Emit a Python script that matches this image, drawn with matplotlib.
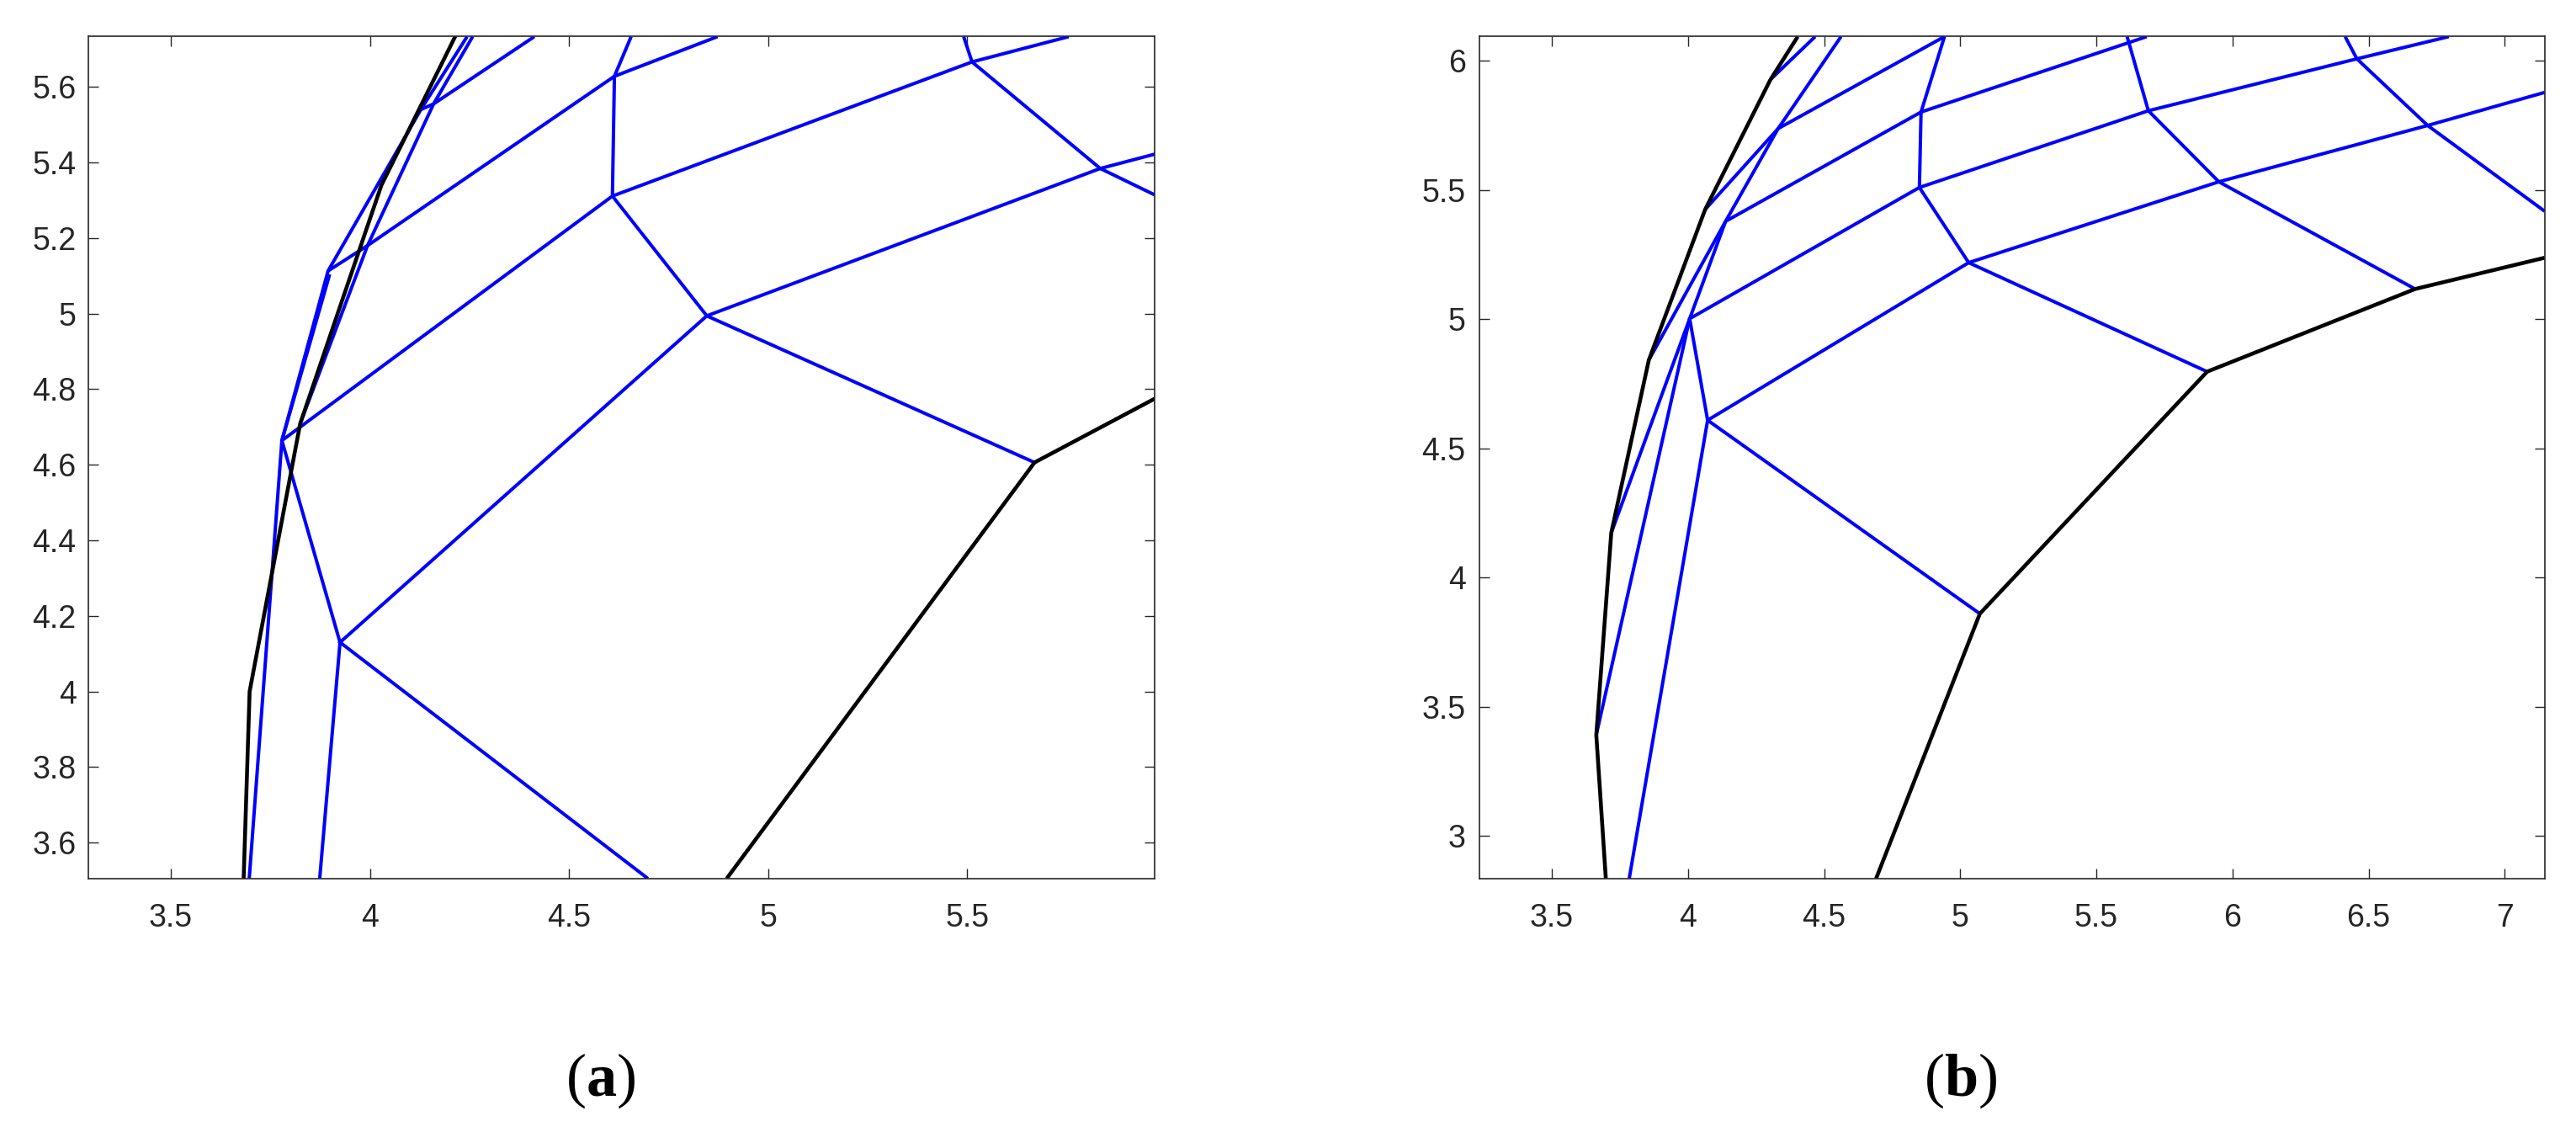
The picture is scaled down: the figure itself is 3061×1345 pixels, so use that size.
import matplotlib
matplotlib.use("Agg")
import matplotlib.pyplot as plt

# ---------------- panel (a) ----------------
a_xlim = (3.292, 5.971)
a_ylim = (3.505, 5.733)
a_xticks = [3.5, 4, 4.5, 5, 5.5]
a_yticks = [3.6, 3.8, 4.0, 4.2, 4.4, 4.6, 4.8, 5.0, 5.2, 5.4, 5.6]

a_nodes = {
    # inner interface (black)
    "k0": (3.683, 3.505), "k1": (3.698, 4.000), "k2": (3.825, 4.709),
    "k3": (4.029, 5.340), "k4": (4.215, 5.735),
    # outer boundary (black)
    "o0": (4.896, 3.505), "o1": (5.669, 4.606), "o2": (5.971, 4.775),
    # mesh nodes (blue)
    "A": (3.779, 4.664), "B": (3.895, 5.113), "B2": (3.899, 5.104),
    "C": (3.925, 4.130), "D": (4.846, 4.994), "E": (4.609, 5.311),
    "F": (4.614, 5.628), "G": (5.512, 5.666), "H": (5.834, 5.384),
    "I": (4.160, 5.555), "J": (3.994, 5.180), "L": (4.128, 5.540),
    # where lines leave the view
    "b1": (3.697, 3.505), "b2": (3.874, 3.505), "b3": (4.698, 3.505),
    "t1": (4.244, 5.733), "t2": (4.258, 5.733), "t3": (4.413, 5.733),
    "t4": (4.656, 5.733), "t5": (4.873, 5.733), "t6": (5.491, 5.733),
    "t7": (5.755, 5.733), "r1": (5.971, 5.422), "r2": (5.971, 5.314),
}
a_black = [["k0", "k1", "k2", "k3", "k4"], ["o0", "o1", "o2"]]
a_blue = [
    ["b1", "A", "B", "L", "t1"],
    ["A", "B2"],
    ["b2", "C", "A", "E", "F", "t4"],
    ["b3", "C", "D", "o1"],
    ["E", "D", "H", "r1"],
    ["B", "J", "F", "t5"],
    ["k2", "J", "I", "t2"],
    ["I", "L"],
    ["I", "t3"],
    ["E", "G", "t7"],
    ["t6", "G", "H", "r2"],
]

# ---------------- panel (b) ----------------
b_xlim = (3.235, 7.147)
b_ylim = (2.835, 6.094)
b_xticks = [3.5, 4, 4.5, 5, 5.5, 6, 6.5, 7]
b_yticks = [3, 3.5, 4, 4.5, 5, 5.5, 6]

b_nodes = {
    "k0": (3.698, 2.835), "K1": (3.663, 3.391), "K2": (3.718, 4.173),
    "K3": (3.856, 4.842), "K4": (4.063, 5.425), "K5": (4.303, 5.928),
    "k6": (4.403, 6.094),
    "o0": (4.691, 2.835), "N9": (5.072, 3.860), "N10": (5.907, 4.797),
    "N15": (6.671, 5.117), "o4": (7.147, 5.238),
    "N2": (4.006, 5.002), "N3": (4.072, 4.609), "N4": (4.138, 5.379),
    "N5": (4.331, 5.738), "N6": (4.850, 5.510), "N7": (4.856, 5.802),
    "N8": (5.031, 5.219), "N11": (5.950, 5.532), "N12": (5.691, 5.807),
    "N13": (6.457, 6.008), "N14": (6.717, 5.750),
    "b1": (3.784, 2.835),
    "t1": (4.467, 6.094), "t2": (4.562, 6.094), "t3": (4.942, 6.094),
    "t4": (5.613, 6.094), "t5": (5.685, 6.094), "t6": (6.414, 6.094),
    "t7": (6.795, 6.094), "r1": (7.147, 5.878), "r2": (7.147, 5.418),
}
b_black = [["k0", "K1", "K2", "K3", "K4", "K5", "k6"],
           ["o0", "N9", "N10", "N15", "o4"]]
b_blue = [
    ["K1", "N2", "N6", "N12", "N13", "t7"],
    ["K2", "N2"],
    ["b1", "N3", "N8", "N11", "N14", "r1"],
    ["N9", "N3", "N2", "N4", "N5", "t2"],
    ["K3", "N4", "N7", "t5"],
    ["K4", "N5", "t3"],
    ["K5", "t1"],
    ["t3", "N7", "N6", "N8", "N10"],
    ["t4", "N12", "N11", "N15"],
    ["t6", "N13", "N14", "r2"],
]

plt.rcParams["font.family"] = ["Liberation Sans", "DejaVu Sans"]
plt.rcParams["mathtext.fontset"] = "custom"
plt.rcParams["mathtext.rm"] = "Liberation Serif"
plt.rcParams["mathtext.bf"] = "Liberation Serif:bold"

TXT = "#262626"

fig = plt.figure(figsize=(30.61, 13.45), dpi=100)
ax_a = fig.add_axes([0.03414, 0.22394, 0.41416, 0.74372])
ax_b = fig.add_axes([0.57445, 0.22394, 0.41340, 0.74372])


def draw_mesh(ax, nodes, black, blue):
    for path in blue:
        xs = [nodes[n][0] for n in path]
        ys = [nodes[n][1] for n in path]
        ax.plot(xs, ys, color="#0000ff", lw=2.9, solid_capstyle="butt",
                solid_joinstyle="miter")
    for path in black:
        xs = [nodes[n][0] for n in path]
        ys = [nodes[n][1] for n in path]
        ax.plot(xs, ys, color="black", lw=3.3, solid_capstyle="butt",
                solid_joinstyle="miter")


def style(ax, xlim, ylim, xticks, yticks, ypad):
    ax.set_xlim(*xlim)
    ax.set_ylim(*ylim)
    ax.set_xticks(xticks)
    ax.set_xticklabels([f"{v:g}" for v in xticks])
    ax.set_yticks(yticks)
    ax.set_yticklabels([f"{v:g}" for v in yticks])
    ax.tick_params(direction="in", length=8.5, width=1.0, colors=TXT,
                   labelsize=27, top=True, right=True)
    ax.tick_params(axis="x", pad=21)
    ax.tick_params(axis="y", pad=ypad)
    for sp in ax.spines.values():
        sp.set_color(TXT)
        sp.set_linewidth(1.2)


draw_mesh(ax_a, a_nodes, a_black, a_blue)
draw_mesh(ax_b, b_nodes, b_black, b_blue)
style(ax_a, a_xlim, a_ylim, a_xticks, a_yticks, 10)
style(ax_b, b_xlim, b_ylim, b_xticks, b_yticks, 12)

fig.text(0.233, 0.045, r"($\mathbf{a}$)", ha="center", va="center",
         fontsize=52, family="Liberation Serif", color="black")
fig.text(0.761, 0.045, r"($\mathbf{b}$)", ha="center", va="center",
         fontsize=52, family="Liberation Serif", color="black")

fig.savefig("out.png", dpi=100, facecolor="white")
